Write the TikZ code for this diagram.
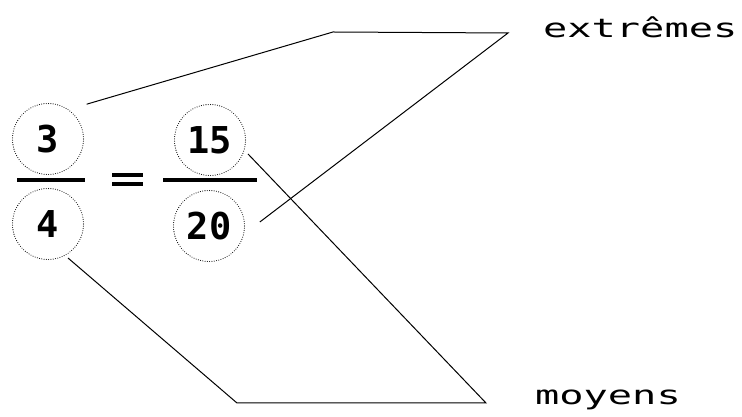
\documentclass[tikz,border=0pt]{standalone}
\usepackage{fontspec}
\usetikzlibrary{calc}
\newfontfamily\numfont{DejaVu Sans Mono}
\newfontfamily\wordfont[FakeStretch=1.55]{DejaVu Sans Mono}

\begin{document}
\begin{tikzpicture}[x=1pt,y=1pt,
  term/.style={circle,draw,line width=1.1pt,line cap=round,
    dash pattern=on 0pt off 2.3pt,minimum size=71pt,inner sep=0pt,
    font=\numfont\bfseries\fontsize{37}{37}\selectfont},
  word/.style={anchor=base west,inner sep=0pt,
    font=\wordfont\fontsize{26}{26}\selectfont},
  link/.style={line width=1pt},
  bar/.style={line width=4.5pt}]
  \path[use as bounding box] (0,0) rectangle (742,417);
  \node[term] (three) at (48,278) {3};
  \node[term] (four) at (48,193) {4};
  \node[term] (fifteen) at (210,277) {15};
  \node[term] (twenty) at (209,191) {20};
  \draw[bar] (17,237) -- (85,237);
  \draw[bar] (163,237) -- (257,237);
  \draw[line width=4pt] (112,242) -- (143,242);
  \draw[line width=4pt] (112,232.5) -- (143,232.5);
  \node[word] (extremes) at (543,379) {extrêmes};
  \node[word] (moyens) at (535,12) {moyens};
  \draw[link] ($(three)+(42:52)$) -- (333,385) -- (508,384)
    -- ($(twenty)+(4.5:51)$);
  \draw[link] ($(four)+(-59.5:39.5)$) -- (237,14) -- (486,14)
    -- ($(fifteen)+(-20.2:40.5)$);
\end{tikzpicture}
\end{document}
